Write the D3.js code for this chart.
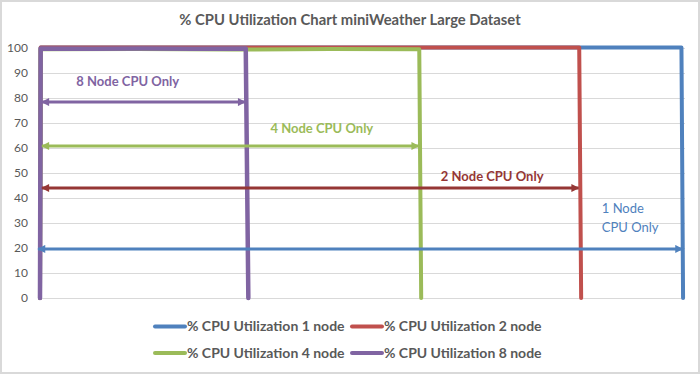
<!DOCTYPE html>
<html>
<head>
<meta charset="utf-8">
<script src="https://cdn.jsdelivr.net/npm/d3@7"></script>
<style>
  body { margin: 0; background: #fff; }
  svg { display: block; font-family: Lato, "Open Sans", sans-serif; }
</style>
</head>
<body>
<div class="chart"></div>
<script>
// series: elapsed time (s) and % CPU utilization
var names = ["% CPU Utilization 1 node", "% CPU Utilization 2 node", "% CPU Utilization 4 node", "% CPU Utilization 8 node"];
var colors = ["#4F81BD", "#C0504D", "#9BBB59", "#8064A2"];

var time1 = [0, 1, 250, 500, 750, 994.5, 997];
var cpu1  = [0, 100, 100, 100, 100, 100, 0];
var time2 = [0, 1, 200, 400, 600, 836, 839];
var cpu2  = [0, 100, 100, 100, 100, 100, 0];
var time3 = [0, 1, 150, 300, 450, 588, 591];
var cpu3  = [0, 99.3, 99.4, 99.2, 99.4, 99.3, 0];
var time4 = [0, 1, 80, 160, 240, 319, 323];
var cpu4  = [0, 99.6, 99.5, 99.6, 99.5, 99.6, 0];

var yTicks = [0, 10, 20, 30, 40, 50, 60, 70, 80, 90, 100];

// annotation arrows (span of each run) and their labels
var arrowColors = ["#8064A2", "#9BBB59", "#953735", "#4F81BD"];
var arrowFrom = [3, 3, 3, -3];
var arrowTo   = [318, 587, 835, 996];
var arrowAt   = [78.2, 60.7, 43.9, 19.6];

var labelText  = ["8 Node CPU Only", "4 Node CPU Only", "2 Node CPU Only", "1 Node", "CPU Only"];
var labelColor = ["#8064A2", "#9BBB59", "#953735", "#4F81BD", "#4F81BD"];
var labelTime  = [136, 437, 701, 871, 871];
var labelAt    = [86.5, 67.7, 48.6, 35.6, 28.2];
var labelAnchor = ["middle", "middle", "middle", "start", "start"];
var labelWeight = ["bold", "bold", "bold", "normal", "normal"];

var W = 700, H = 375;
var svg = d3.select(".chart").append("svg").attr("width", W).attr("height", H);

svg.append("rect").attr("x", 1).attr("y", 1).attr("width", W - 2).attr("height", H - 3)
  .attr("fill", "#fff").attr("stroke", "#d9d9d9").attr("stroke-width", 2);

svg.append("text").attr("x", 350).attr("y", 25).attr("text-anchor", "middle")
  .attr("font-size", 14.8).attr("font-weight", "bold").attr("fill", "#595959")
  .text("% CPU Utilization Chart miniWeather Large Dataset");

var x = d3.scaleLinear().domain([0, 1000]).range([40, 685]);
var y = d3.scaleLinear().domain([0, 100]).range([298, 47.5]);

// gridlines
svg.append("g").selectAll("line").data(yTicks).enter().append("line")
  .attr("x1", x(0)).attr("x2", x(1000))
  .attr("y1", function(d) { return Math.round(y(d)) + 0.5; })
  .attr("y2", function(d) { return Math.round(y(d)) + 0.5; })
  .attr("stroke", "#d9d9d9").attr("stroke-width", 1);

var yAxis = svg.append("g").attr("transform", "translate(" + x(0) + ",0)")
  .call(d3.axisLeft(y).tickValues(yTicks).tickSize(0).tickPadding(12));
yAxis.select(".domain").remove();
yAxis.selectAll("text").attr("fill", "#595959").attr("font-size", 12)
  .attr("font-family", "Lato, sans-serif");

var series = [
  { t: time1, v: cpu1 }, { t: time2, v: cpu2 }, { t: time3, v: cpu3 }, { t: time4, v: cpu4 }
];
var line = d3.line().x(function(d) { return x(d[0]); }).y(function(d) { return y(d[1]); });

svg.append("g").selectAll("path").data(series).enter().append("path")
  .attr("d", function(s) { return line(d3.zip(s.t, s.v)); })
  .attr("fill", "none")
  .attr("stroke", function(s, i) { return colors[i]; })
  .attr("stroke-width", function(s, i) { return i == 3 ? 4.5 : 4; })
  .attr("stroke-linejoin", "round").attr("stroke-linecap", "round");

// arrowheads
var defs = svg.append("defs");
arrowColors.forEach(function(c, i) {
  defs.append("marker").attr("id", "head" + i)
    .attr("viewBox", "0 0 10 10").attr("refX", 9).attr("refY", 5)
    .attr("markerWidth", 9).attr("markerHeight", 8)
    .attr("markerUnits", "userSpaceOnUse").attr("orient", "auto-start-reverse")
    .append("path").attr("d", "M0,0L10,5L0,10z").attr("fill", c);
});

svg.append("g").selectAll("line").data(arrowAt).enter().append("line")
  .attr("x1", function(d, i) { return x(arrowFrom[i]); })
  .attr("x2", function(d, i) { return x(arrowTo[i]); })
  .attr("y1", function(d) { return y(d); })
  .attr("y2", function(d) { return y(d); })
  .attr("stroke", function(d, i) { return arrowColors[i]; })
  .attr("stroke-width", 3)
  .attr("marker-start", function(d, i) { return "url(#head" + i + ")"; })
  .attr("marker-end", function(d, i) { return "url(#head" + i + ")"; });

svg.append("g").selectAll("text").data(labelText).enter().append("text")
  .attr("x", function(d, i) { return x(labelTime[i]); })
  .attr("y", function(d, i) { return y(labelAt[i]); })
  .attr("dy", "0.35em")
  .attr("text-anchor", function(d, i) { return labelAnchor[i]; })
  .attr("font-weight", function(d, i) { return labelWeight[i]; })
  .attr("font-size", 13)
  .attr("fill", function(d, i) { return labelColor[i]; })
  .text(function(d) { return d; });

// legend
var legendX = [155, 352, 155, 352];
var legendY = [326.5, 326.5, 353, 353];
var lg = svg.append("g").selectAll("g").data(names).enter().append("g")
  .attr("transform", function(d, i) { return "translate(" + legendX[i] + "," + legendY[i] + ")"; });
lg.append("line").attr("x1", 0).attr("x2", 30)
  .attr("stroke", function(d, i) { return colors[i]; })
  .attr("stroke-width", 4).attr("stroke-linecap", "round");
lg.append("text").attr("x", 32).attr("dy", "0.35em")
  .attr("font-size", 14).attr("font-weight", "bold").attr("fill", "#595959")
  .text(function(d) { return d; });
</script>
</body>
</html>
